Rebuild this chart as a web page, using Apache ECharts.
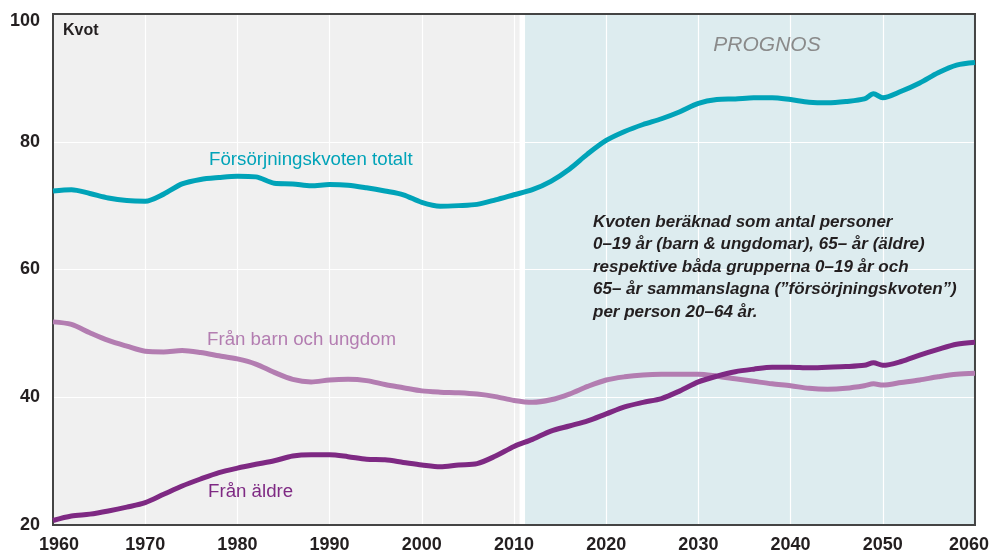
<!DOCTYPE html>
<html>
<head>
<meta charset="utf-8">
<script src="https://cdn.jsdelivr.net/npm/echarts@6/dist/echarts.min.js"></script>
<style>
  html, body { margin: 0; padding: 0; background: #fff; }
  #chart { width: 992px; height: 554px; }
</style>
</head>
<body>
<div id="chart"></div>
<script>
// år (varannat år, plus 2049 för hacket i prognosen)
const years = [
  1960, 1962, 1964, 1966, 1968, 1970, 1972, 1974, 1976, 1978,
  1980, 1982, 1984, 1986, 1988, 1990, 1992, 1994, 1996, 1998,
  2000, 2002, 2004, 2006, 2008, 2010, 2012, 2014, 2016, 2018,
  2020, 2022, 2024, 2026, 2028, 2030, 2032, 2034, 2036, 2038,
  2040, 2042, 2044, 2046, 2048, 2049, 2050, 2052, 2054, 2056,
  2058, 2060
]

const totalt = [
  72.3, 72.5, 71.9, 71.2, 70.8, 70.7, 71.8, 73.4, 74.1, 74.4,
  74.6, 74.5, 73.5, 73.4, 73.1, 73.3, 73.2, 72.8, 72.3, 71.7,
  70.5, 69.9, 70.0, 70.2, 70.9, 71.7, 72.5, 73.8, 75.7, 78.1,
  80.2, 81.6, 82.7, 83.6, 84.7, 86.0, 86.6, 86.7, 86.9, 86.9,
  86.6, 86.2, 86.1, 86.3, 86.7, 87.5, 86.9, 87.9, 89.2, 90.8,
  92.0, 92.4
]

const barnUngdom = [
  51.8, 51.4, 50.1, 48.9, 48.0, 47.2, 47.1, 47.3, 47.0, 46.5,
  46.0, 45.2, 43.9, 42.8, 42.4, 42.7, 42.8, 42.6, 42.0, 41.5,
  41.0, 40.8, 40.7, 40.5, 40.1, 39.5, 39.2, 39.6, 40.5, 41.7,
  42.7, 43.2, 43.5, 43.6, 43.6, 43.6, 43.3, 42.9, 42.5, 42.1,
  41.8, 41.4, 41.25, 41.4, 41.8, 42.1, 41.9, 42.3, 42.7, 43.2,
  43.6, 43.75
]

const aldre = [
  20.7, 21.4, 21.7, 22.2, 22.8, 23.5, 24.8, 26.1, 27.2, 28.2,
  28.9, 29.5, 30.05, 30.8, 31.0, 31.0, 30.7, 30.3, 30.2, 29.8,
  29.4, 29.1, 29.4, 29.6, 30.8, 32.3, 33.4, 34.7, 35.5, 36.3,
  37.4, 38.5, 39.2, 39.8, 41.0, 42.4, 43.3, 44.0, 44.4, 44.7,
  44.7, 44.6, 44.7, 44.8, 45.0, 45.4, 45.0, 45.6, 46.6, 47.5,
  48.3, 48.6
]

const historyEnd = 2010.6
const prognosStart = 2011.2

const font = '"Liberation Sans", Arial, Helvetica, sans-serif'
const dark = '#231f20'
const colors = {
  totalt: '#00a3b8',
  barn: '#b37db1',
  aldre: '#7e2983'
}

function pairs(values) {
  return years.map((y, i) => [y, values[i]])
}

function lineSeries(name, values, color) {
  return {
    name: name,
    type: 'line',
    data: pairs(values),
    smooth: 0.3,
    symbol: 'none',
    z: 3,
    lineStyle: { color: color, width: 5, cap: 'butt' }
  }
}

const chart = echarts.init(document.getElementById('chart'), null, { renderer: 'canvas' })

chart.setOption({
  animation: false,
  backgroundColor: '#fff',
  textStyle: { fontFamily: font },
  grid: {
    left: 53,
    right: 16,
    top: 14,
    bottom: 28,
    show: true,
    z: 1.6,
    backgroundColor: 'transparent',
    borderColor: '#444',
    borderWidth: 2
  },
  xAxis: {
    type: 'value',
    min: 1960,
    max: 2060,
    interval: 10,
    z: 1.5,
    axisLine: { show: true, lineStyle: { color: '#333', width: 2 } },
    axisTick: { show: false },
    splitLine: { show: true, lineStyle: { color: '#ffffff', width: 1.2 } },
    axisLabel: {
      margin: 11,
      color: dark,
      fontFamily: font,
      fontSize: 18,
      fontWeight: 'bold',
      formatter: function (v) {
        if (v === 1960) return '{first|1960}'
        if (v === 2060) return '{last|2060}'
        return String(v)
      },
      rich: {
        first: { padding: [0, 0, 0, 12], fontSize: 18, fontWeight: 'bold', color: dark, fontFamily: font },
        last: { padding: [0, 12, 0, 0], fontSize: 18, fontWeight: 'bold', color: dark, fontFamily: font }
      }
    }
  },
  yAxis: {
    type: 'value',
    min: 20,
    max: 100,
    interval: 20,
    z: 1.5,
    axisLine: { show: true, lineStyle: { color: '#333', width: 2 } },
    axisTick: { show: false },
    splitLine: { show: true, lineStyle: { color: '#ffffff', width: 1.2 } },
    axisLabel: {
      margin: 13,
      color: dark,
      fontFamily: font,
      fontSize: 18,
      fontWeight: 'bold',
      formatter: function (v) {
        return v === 100 ? '{top|100}' : String(v)
      },
      rich: {
        top: { padding: [14, 0, 0, 0], fontSize: 18, fontWeight: 'bold', color: dark, fontFamily: font }
      }
    }
  },
  series: [
    {
      name: 'bakgrund',
      type: 'line',
      data: [],
      z: 1,
      silent: true,
      markArea: {
        silent: true,
        label: { show: false },
        data: [
          [{ xAxis: 1960, itemStyle: { color: '#f0f0f0' } }, { xAxis: historyEnd }],
          [{ xAxis: prognosStart, itemStyle: { color: '#ddecef' } }, { xAxis: 2060 }]
        ]
      }
    },
    lineSeries('Från barn och ungdom', barnUngdom, colors.barn),
    lineSeries('Från äldre', aldre, colors.aldre),
    lineSeries('Försörjningskvoten totalt', totalt, colors.totalt)
  ],
  graphic: [
    {
      type: 'text', left: 63, top: 23, z: 10,
      style: { text: 'Kvot', fontFamily: font, fontSize: 16, fontWeight: 'bold', fill: dark }
    },
    {
      type: 'text', x: 767, y: 45, z: 10,
      style: {
        text: 'PROGNOS', fontFamily: font, fontSize: 21, fontStyle: 'italic',
        fill: '#8a8a8a', align: 'center', verticalAlign: 'middle'
      }
    },
    {
      type: 'text', x: 209, y: 160, z: 10,
      style: {
        text: 'Försörjningskvoten totalt', fontFamily: font, fontSize: 18.7,
        fill: colors.totalt, verticalAlign: 'middle'
      }
    },
    {
      type: 'text', x: 207, y: 340, z: 10,
      style: {
        text: 'Från barn och ungdom', fontFamily: font, fontSize: 18.7,
        fill: colors.barn, verticalAlign: 'middle'
      }
    },
    {
      type: 'text', x: 208, y: 492, z: 10,
      style: {
        text: 'Från äldre', fontFamily: font, fontSize: 18.7,
        fill: colors.aldre, verticalAlign: 'middle'
      }
    },
    {
      type: 'text', x: 593, y: 211, z: 10,
      style: {
        text: 'Kvoten beräknad som antal personer\n' +
          '0–19 år (barn & ungdomar), 65– år (äldre)\n' +
          'respektive båda grupperna 0–19 år och\n' +
          '65– år sammanslagna (”försörjningskvoten”)\n' +
          'per person 20–64 år.',
        fontFamily: font, fontSize: 17, fontStyle: 'italic', fontWeight: 'bold',
        lineHeight: 22.5, fill: dark, verticalAlign: 'top'
      }
    }
  ]
})
</script>
</body>
</html>
